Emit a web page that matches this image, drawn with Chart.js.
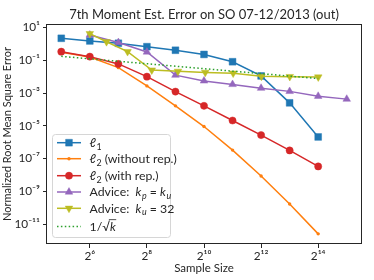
<!DOCTYPE html>
<html><head><meta charset="utf-8">
<script src="https://cdn.jsdelivr.net/npm/chart.js@4.4.0/dist/chart.umd.min.js"></script>
<style>html,body{margin:0;padding:0;background:#fff}#wrap{width:374px;height:280px}</style>
</head><body><div id="wrap"><canvas id="c" width="374" height="280"></canvas></div>
<script>
// ---------- data ----------
const sizesPow2  = [32, 64, 128, 256, 512, 1024, 2048, 4096, 8192, 16384];
const sizesEqual = [64, 128, 256, 512, 1024, 2048, 4096, 8192, 16384, 32768];
const sizesKu32  = [64, 96, 160, 288, 544, 1056, 2080, 4128, 8224, 16416];
const l1Err          = [2.25, 1.55, 1.12, 0.69, 0.418, 0.232, 0.083, 0.0113, 2.55e-4, 2.1e-6];
const l2NoRepErr     = [0.32, 0.16, 0.036, 2.77e-3, 1.67e-4, 9.1e-6, 3.3e-7, 8.6e-9, 1.68e-10, 2.5e-12];
const l2RepErr       = [0.343, 0.170, 0.061, 0.0102, 1.24e-3, 1.67e-4, 2.12e-5, 2.72e-6, 3.13e-7, 3.3e-8];
const adviceEqualErr = [3.59, 1.25, 0.329, 0.0126, 5.6e-3, 3.42e-3, 2.01e-3, 1.28e-3, 6.5e-4, 4.3e-4];
const adviceKu32Err  = [4.3, 1.38, 0.343, 0.0255, 0.0214, 0.0185, 0.0165, 0.0106, 0.0102, 0.0096];
const invSqrtRef     = [0.177, 0.125, 0.0884, 0.0625, 0.0442, 0.0313, 0.0221, 0.0156, 0.0110, 0.0078];
const seriesNames = ['ℓ1', 'ℓ2 (without rep.)', 'ℓ2 (with rep.)', 'Advice: kp = ku', 'Advice: ku = 32', '1/√k'];
const xTickExps = [6, 8, 10, 12, 14];
const yTickExps = [1, -1, -3, -5, -7, -9, -11];
const titleText = '7th Moment Est. Error on SO 07-12/2013 (out)';
const xTitle = 'Sample Size';
const yTitle = 'Normalized Root Mean Square Error';

// ---------- helpers ----------
const FONT = 'Lato, "DejaVu Sans", sans-serif';
const TXT = '#262626';
const SUP = {'0':'⁰','1':'¹','2':'²','3':'³','4':'⁴','5':'⁵','6':'⁶','7':'⁷','8':'⁸','9':'⁹','-':'⁻'};
const sup = n => String(n).split('').map(c => SUP[c]).join('');
const pts = (xs, ys) => xs.map((x, i) => ({x, y: ys[i]}));
const alpha = (hex, a) => {
  const n = parseInt(hex.slice(1), 16);
  return `rgba(${n >> 16},${(n >> 8) & 255},${n & 255},${a})`;
};
const C = {blue:'#1f77b4', orange:'#ff7f0e', red:'#d62728', purple:'#9467bd', olive:'#bcbd22', green:'#2ca02c'};

function series(i, xs, ys, color, style, r, extra) {
  return Object.assign({
    label: seriesNames[i], data: pts(xs, ys), borderColor: color, backgroundColor: color,
    pointBackgroundColor: color, pointBorderColor: alpha(color, 0.45), pointBorderWidth: 1,
    pointStyle: style, pointRadius: r, pointHoverRadius: r, borderWidth: 1.5, tension: 0,
    order: 10 - i
  }, extra || {});
}

const datasets = [
  series(0, sizesPow2, l1Err, C.blue, 'rect', 4.8),
  series(1, sizesPow2, l2NoRepErr, C.orange, 'circle', 1.7, {pointBorderWidth: 0}),
  series(2, sizesPow2, l2RepErr, C.red, 'circle', 3.6),
  series(3, sizesEqual, adviceEqualErr, C.purple, 'triangle', 4.4),
  series(4, sizesKu32, adviceKu32Err, C.olive, 'triangle', 4.4, {pointRotation: 180}),
  series(5, sizesPow2, invSqrtRef, C.green, false, 0, {borderDash: [1.5, 2.4], pointRadius: 0})
];

// legend rich labels
const legendSegs = [
  [{t:'ℓ', it:1}, {t:'1', sub:1}],
  [{t:'ℓ', it:1}, {t:'2', sub:1}, {t:' (without rep.)'}],
  [{t:'ℓ', it:1}, {t:'2', sub:1}, {t:' (with rep.)'}],
  [{t:'Advice:  '}, {t:'k', it:1}, {t:'p', it:1, sub:1}, {t:' = '}, {t:'k', it:1}, {t:'u', it:1, sub:1}],
  [{t:'Advice:  '}, {t:'k', it:1}, {t:'u', it:1, sub:1}, {t:' = 32'}],
  [{t:'1/√'}, {t:'k', it:1, over:1}]
];

function drawRich(ctx, x, y, segs, size) {
  for (const s of segs) {
    const sz = s.sub ? size * 0.72 : size;
    ctx.font = `${s.it ? 'italic ' : ''}${sz}px ${FONT}`;
    const dy = s.sub ? size * 0.22 : 0;
    ctx.fillText(s.t, x, y + dy);
    const w = ctx.measureText(s.t).width;
    if (s.over) {
      ctx.save(); ctx.strokeStyle = TXT; ctx.lineWidth = 0.8;
      ctx.beginPath(); ctx.moveTo(x - 1, y - size * 0.9); ctx.lineTo(x + w + 0.5, y - size * 0.9); ctx.stroke();
      ctx.restore();
    }
    x += w + (s.it && !s.sub ? 0.6 : 0);
  }
}

const framePlugin = {
  id: 'frame',
  afterDatasetsDraw(chart) {
    const {ctx, chartArea: a} = chart;
    ctx.save();
    ctx.strokeStyle = '#262626'; ctx.lineWidth = 1;
    ctx.strokeRect(Math.round(a.left) - 0.5, Math.round(a.top) + 0.5,
                   Math.round(a.right - a.left) + 1, Math.round(a.bottom - a.top) - 1);
    ctx.restore();
  }
};

const legendPlugin = {
  id: 'richLegend',
  afterDraw(chart) {
    const ctx = chart.ctx;
    const bx = 52.5, by = 134.5, bw = 118, bh = 103, rr = 3;
    ctx.save();
    ctx.beginPath();
    ctx.roundRect(bx, by, bw, bh, rr);
    ctx.fillStyle = 'rgba(255,255,255,0.85)'; ctx.fill();
    ctx.strokeStyle = '#d6d6d6'; ctx.lineWidth = 1; ctx.stroke();
    const rows = [142.7, 158.7, 175.7, 192, 208.3, 226.5];
    datasets.forEach((ds, i) => {
      const y = rows[i];
      ctx.save();
      ctx.strokeStyle = ds.borderColor; ctx.lineWidth = ds.borderWidth;
      if (ds.borderDash) ctx.setLineDash(ds.borderDash);
      ctx.beginPath(); ctx.moveTo(57, y); ctx.lineTo(81, y); ctx.stroke();
      ctx.restore();
      if (ds.pointStyle && ds.pointRadius > 0) {
        ctx.save();
        ctx.fillStyle = ds.pointBackgroundColor; ctx.strokeStyle = ds.pointBorderColor;
        ctx.lineWidth = ds.pointBorderWidth;
        Chart.helpers.drawPoint(ctx, {pointStyle: ds.pointStyle, rotation: ds.pointRotation || 0,
          radius: ds.pointRadius, borderWidth: ds.pointBorderWidth}, 69, y);
        ctx.restore();
      }
      ctx.fillStyle = TXT; ctx.textBaseline = 'alphabetic'; ctx.textAlign = 'left';
      drawRich(ctx, 89.5, y + 4.2, legendSegs[i], 12.3);
    });
    ctx.restore();
  }
};

new Chart(document.getElementById('c'), {
  type: 'line',
  data: {datasets},
  plugins: [framePlugin, legendPlugin],
  options: {
    responsive: false, animation: false, devicePixelRatio: 1,
    layout: {padding: {top: 0, right: 13, left: 0, bottom: 0}},
    plugins: {
      legend: {display: false}, tooltip: {enabled: false},
      title: {display: true, text: titleText, fullSize: false, color: TXT,
              font: {family: FONT, size: 13, weight: 'normal'}, padding: {top: 7, bottom: 1.4}}
    },
    scales: {
      x: {
        type: 'logarithmic', min: Math.pow(2, 4.5), max: Math.pow(2, 15.5),
        afterBuildTicks: s => { s.ticks = xTickExps.map(e => ({value: Math.pow(2, e)})); },
        afterFit: s => { s.height = 36; },
        ticks: {autoSkip: false, maxRotation: 0, padding: 1, color: TXT,
                font: {family: FONT, size: 11.8},
                callback: v => '2' + sup(Math.round(Math.log2(v)))},
        grid: {drawOnChartArea: false, tickLength: 4, color: '#262626'},
        border: {display: false},
        title: {display: true, text: xTitle, color: TXT, font: {family: FONT, size: 11.5},
                padding: {top: 0, bottom: 5}}
      },
      y: {
        type: 'logarithmic', min: Math.pow(10, -12.197), max: Math.pow(10, 1.2257),
        afterBuildTicks: s => { s.ticks = yTickExps.map(e => ({value: Math.pow(10, e)})); },
        afterFit: s => { s.width = 47; },
        ticks: {autoSkip: false, padding: 3, color: TXT, font: {family: FONT, size: 11.8},
                callback: v => '10' + sup(Math.round(Math.log10(v)))},
        grid: {drawOnChartArea: false, tickLength: 4, color: '#262626'},
        border: {display: false},
        title: {display: true, text: yTitle, color: TXT, font: {family: FONT, size: 11},
                padding: {top: 1, bottom: 0}}
      }
    }
  }
});
</script></body></html>
